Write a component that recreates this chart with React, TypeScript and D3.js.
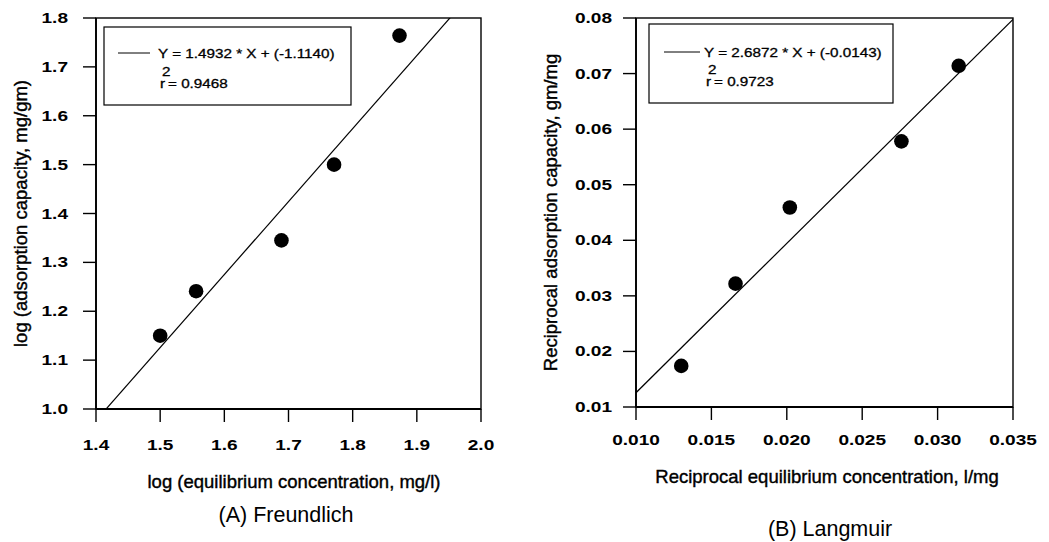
import React from "react";
import * as d3 from "d3";

// Freundlich isotherm: log(Ce) vs log(qe)
const freundlichX = [1.5, 1.556, 1.689, 1.771, 1.873];
const freundlichY = [1.15, 1.241, 1.345, 1.5, 1.764];
const freundlichXTicks = [1.4, 1.5, 1.6, 1.7, 1.8, 1.9, 2.0];
const freundlichYTicks = [1.0, 1.1, 1.2, 1.3, 1.4, 1.5, 1.6, 1.7, 1.8];
const freundlichFit = { slope: 1.4932, intercept: -1.114, r2: 0.9468 };

// Langmuir isotherm: 1/Ce vs 1/qe
const langmuirX = [0.013, 0.0166, 0.0202, 0.0276, 0.0314];
const langmuirY = [0.0174, 0.0322, 0.0459, 0.0578, 0.0714];
const langmuirXTicks = [0.01, 0.015, 0.02, 0.025, 0.03, 0.035];
const langmuirYTicks = [0.01, 0.02, 0.03, 0.04, 0.05, 0.06, 0.07, 0.08];
const langmuirFit = { slope: 2.6872, intercept: -0.0143, r2: 0.9723 };

const FONT = "'Liberation Sans', Arial, Helvetica, sans-serif";

type TProps = {
  x: number;
  y: number;
  size: number;
  sx?: number;
  anchor?: "start" | "middle" | "end";
  bold?: boolean;
  rotate?: number;
  heavy?: number;
  children: React.ReactNode;
};

function T({ x, y, size, sx = 1, anchor = "start", bold, rotate = 0, heavy = 0, children }: TProps) {
  return (
    <text
      transform={`translate(${x},${y}) rotate(${rotate}) scale(${sx},1)`}
      fontSize={size}
      fontFamily={FONT}
      fontWeight={bold ? "bold" : "normal"}
      textAnchor={anchor}
      fill="#000"
      stroke={heavy ? "#000" : "none"}
      strokeWidth={heavy}
    >
      {children}
    </text>
  );
}

type PanelProps = {
  id: string;
  xs: number[];
  ys: number[];
  xTicks: number[];
  yTicks: number[];
  fit: { slope: number; intercept: number; r2: number };
  xFmt: (v: number) => string;
  yFmt: (v: number) => string;
  fitFmt: (v: number) => string;
  xRange: [number, number];
  yRange: [number, number];
  xLabelY: number;
  yLabelGap: number;
  xTitle: string;
  xTitlePos: [number, number];
  yTitle: string;
  yTitleX: number;
  caption: string;
  captionPos: [number, number];
  legend: { x: number; y: number; w: number; h: number; lineX0: number; lineX1: number; lineY: number; textX: number; textY: number; rX: number; rY: number };
};

function Panel(p: PanelProps) {
  const xDom = [p.xTicks[0], p.xTicks[p.xTicks.length - 1]];
  const yDom = [p.yTicks[0], p.yTicks[p.yTicks.length - 1]];
  const x = d3.scaleLinear().domain(xDom).range(p.xRange);
  const y = d3.scaleLinear().domain(yDom).range(p.yRange);
  const [x0, x1] = p.xRange;
  const [yb, yt] = p.yRange;
  const tick = 13;
  const fitLine = d3.line<number>()
    .x((v) => x(v))
    .y((v) => y(p.fit.slope * v + p.fit.intercept));
  const yMid = (yb + yt) / 2;
  const L = p.legend;
  const sign = p.fit.intercept < 0 ? "-" : "";
  return (
    <g>
      <defs>
        <clipPath id={`clip-${p.id}`}>
          <rect x={x0} y={yt} width={x1 - x0} height={yb - yt} />
        </clipPath>
      </defs>
      {/* frame */}
      <rect x={x0} y={yt} width={x1 - x0} height={yb - yt} fill="none" stroke="#000" strokeWidth={1.4} />
      <line x1={x0} x2={x0} y1={yt} y2={yb} stroke="#000" strokeWidth={1.8} />
      <line x1={x0} x2={x1} y1={yb} y2={yb} stroke="#000" strokeWidth={1.8} />
      {/* x ticks */}
      {p.xTicks.map((t) => (
        <g key={`x${t}`}>
          <line x1={x(t)} x2={x(t)} y1={yb} y2={yb + tick} stroke="#000" strokeWidth={1.4} />
          <T x={x(t)} y={p.xLabelY} size={14} sx={1.36} anchor="middle" bold>
            {p.xFmt(t)}
          </T>
        </g>
      ))}
      {/* y ticks */}
      {p.yTicks.map((t) => (
        <g key={`y${t}`}>
          <line x1={x0 - tick} x2={x0} y1={y(t)} y2={y(t)} stroke="#000" strokeWidth={1.4} />
          <T x={x0 - p.yLabelGap} y={y(t) + 5} size={14} sx={1.36} anchor="end" bold>
            {p.yFmt(t)}
          </T>
        </g>
      ))}
      {/* regression line */}
      <path
        d={fitLine(xDom) ?? ""}
        fill="none"
        stroke="#000"
        strokeWidth={1.2}
        clipPath={`url(#clip-${p.id})`}
      />
      {/* observations */}
      {p.xs.map((v, i) => (
        <circle key={i} cx={x(v)} cy={y(p.ys[i])} r={7.3} fill="#000" />
      ))}
      {/* legend */}
      <rect x={L.x} y={L.y} width={L.w} height={L.h} fill="#fff" stroke="#000" strokeWidth={1.2} />
      <line x1={L.lineX0} x2={L.lineX1} y1={L.lineY} y2={L.lineY} stroke="#000" strokeWidth={1} />
      <T x={L.textX} y={L.textY} size={12.5} sx={1.22} heavy={0.3}>
        {`Y = ${p.fitFmt(p.fit.slope)} * X + (${sign}${p.fitFmt(Math.abs(p.fit.intercept))})`}
      </T>
      <T x={L.rX + 2} y={L.rY - 12} size={12.5} sx={1.22} heavy={0.3}>
        2
      </T>
      <T x={L.rX} y={L.rY} size={12.5} sx={1.22} heavy={0.3}>
        r
      </T>
      <T x={L.rX + 8} y={L.rY} size={12.5} sx={1.22} heavy={0.3}>
        {`= ${p.fit.r2.toFixed(4)}`}
      </T>
      {/* titles */}
      <T x={p.xTitlePos[0]} y={p.xTitlePos[1]} size={18.5} anchor="middle" heavy={0.4}>
        {p.xTitle}
      </T>
      <T x={p.yTitleX} y={yMid} size={18.5} anchor="middle" rotate={-90} heavy={0.4}>
        {p.yTitle}
      </T>
      <T x={p.captionPos[0]} y={p.captionPos[1]} size={21.5} anchor="middle">
        {p.caption}
      </T>
    </g>
  );
}

export default function App() {
  return (
    <svg
      width={1049}
      height={542}
      style={{ position: "absolute", left: 0, top: 0, background: "#fff" }}
    >
      <rect x={0} y={0} width={1049} height={542} fill="#fff" />
      <Panel
        id="a"
        xs={freundlichX}
        ys={freundlichY}
        xTicks={freundlichXTicks}
        yTicks={freundlichYTicks}
        fit={freundlichFit}
        xFmt={d3.format(".1f")}
        yFmt={d3.format(".1f")}
        fitFmt={(v) => v.toFixed(4)}
        xRange={[96, 481]}
        yRange={[409, 18]}
        xLabelY={450}
        yLabelGap={28}
        xTitle="log (equilibrium concentration, mg/l)"
        xTitlePos={[294, 488]}
        yTitle="log (adsorption capacity, mg/gm)"
        yTitleX={27}
        caption="(A) Freundlich"
        captionPos={[286, 522]}
        legend={{ x: 104, y: 27, w: 247, h: 78, lineX0: 118, lineX1: 150, lineY: 53, textX: 158, textY: 58, rX: 160, rY: 88 }}
      />
      <Panel
        id="b"
        xs={langmuirX}
        ys={langmuirY}
        xTicks={langmuirXTicks}
        yTicks={langmuirYTicks}
        fit={langmuirFit}
        xFmt={d3.format(".3f")}
        yFmt={d3.format(".2f")}
        fitFmt={(v) => v.toFixed(4)}
        xRange={[636, 1013]}
        yRange={[407, 18]}
        xLabelY={445}
        yLabelGap={24}
        xTitle="Reciprocal equilibrium concentration, l/mg"
        xTitlePos={[827, 483]}
        yTitle="Reciprocal adsorption capacity, gm/mg"
        yTitleX={557}
        caption="(B) Langmuir"
        captionPos={[830, 536]}
        legend={{ x: 649, y: 24, w: 244, h: 79, lineX0: 664, lineX1: 700, lineY: 52, textX: 704, textY: 57, rX: 706, rY: 86 }}
      />
    </svg>
  );
}
